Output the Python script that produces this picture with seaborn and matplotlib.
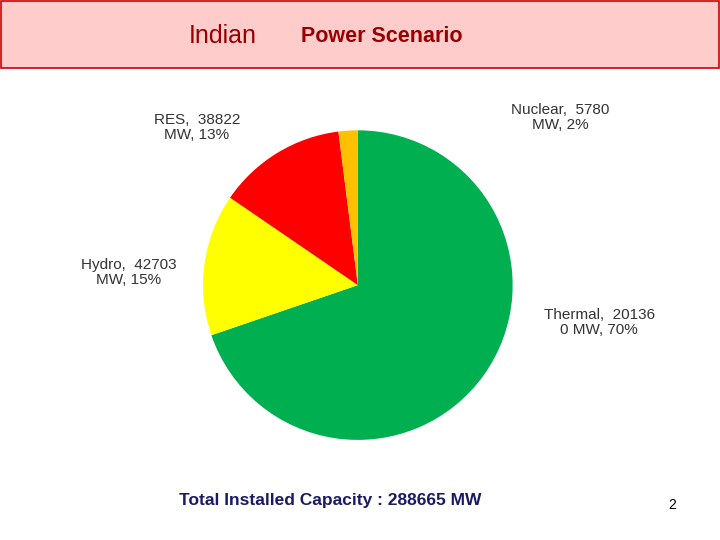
import matplotlib
matplotlib.use("Agg")
import matplotlib.pyplot as plt
import seaborn as sns
from matplotlib.patches import Rectangle

sns.set_theme(style="white")
plt.rcParams['font.family'] = ['Liberation Sans', 'DejaVu Sans']

categories = ["Thermal", "Hydro", "RES", "Nuclear"]
values = [201360, 42703, 38822, 5780]
percents = [70, 15, 13, 2]
colors = ["#00b050", "#ffff00", "#ff0000", "#ffc000"]
label_texts = ["Thermal,  20136\n0 MW, 70%", "Hydro,  42703\nMW, 15%",
               "RES,  38822\nMW, 13%", "Nuclear,  5780\nMW, 2%"]
label_pos = [(1.56, -0.24), (-1.48, 0.08), (-1.04, 1.02), (1.31, 1.08)]

fig = plt.figure(figsize=(7.2, 5.4), dpi=100)
fig.patch.set_facecolor("white")

# title banner
fig.patches.append(Rectangle((0.001, 1 - 68/540), 0.997, 68/540 - 0.002,
                             transform=fig.transFigure, facecolor="#ffcccc",
                             edgecolor="#cc0000", linewidth=1.2))
fig.text(0.262, 1 - 36/540, "Indian", fontsize=18, color="#990000", va="center", ha="left")
fig.text(0.418, 1 - 37/540, "Power Scenario", fontsize=15.5, color="#990000",
         va="center", ha="left", fontweight="bold")

ax = fig.add_axes([0.282, 0.185, 0.43, 0.574])
ax.pie(values, colors=colors, startangle=90, counterclock=False,
       wedgeprops=dict(linewidth=0))
ax.set_xlim(-1, 1); ax.set_ylim(-1, 1)
ax.set_aspect("equal")
for t, (x, y) in zip(label_texts, label_pos):
    ax.text(x, y, t, ha="center", va="center", fontsize=11, color="#333333",
            linespacing=1.1, clip_on=False)

fig.text(330/720, 1 - 500/540, "Total Installed Capacity : 288665 MW", fontsize=12.5,
         color="#1a1a66", ha="center", va="center", fontweight="bold")
fig.text(672/720, 1 - 505/540, "2", fontsize=10, color="black", ha="center", va="center")

fig.savefig("out.png", dpi=100, facecolor="white")
